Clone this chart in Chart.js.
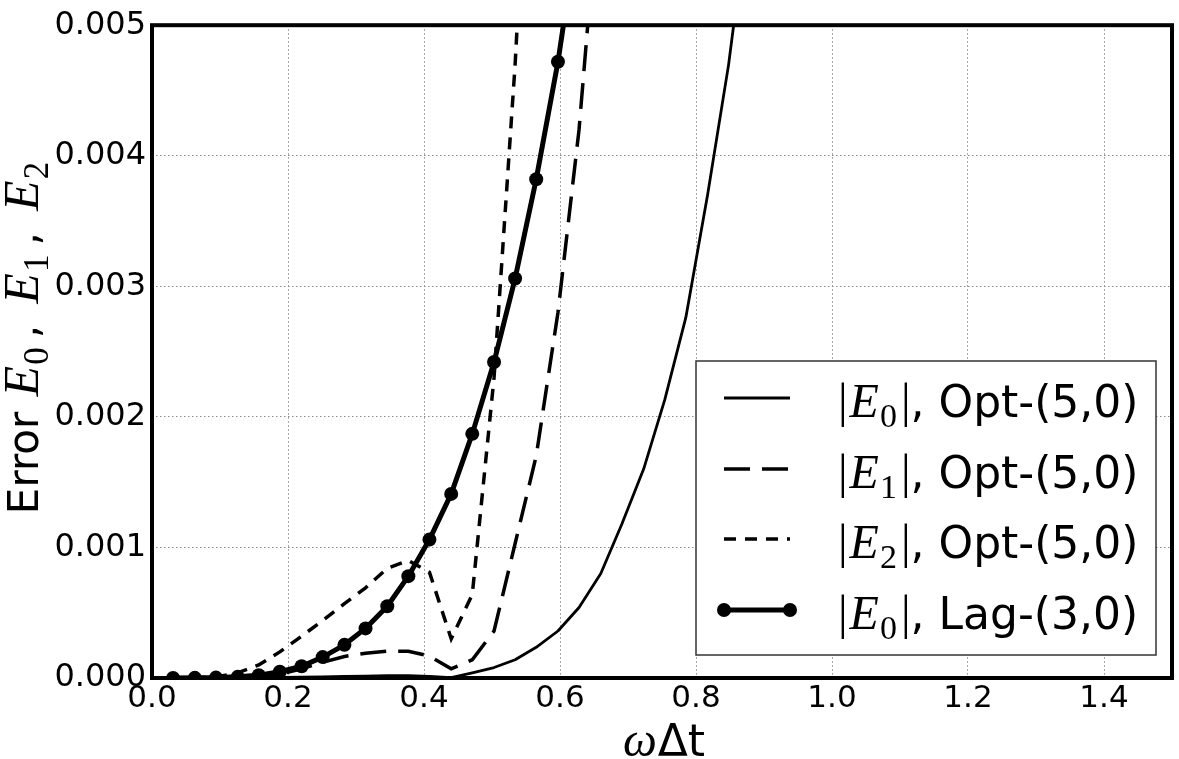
<!DOCTYPE html>
<html>
<head>
<meta charset="utf-8">
<script src="https://cdn.jsdelivr.net/npm/chart.js@4.4.1/dist/chart.umd.min.js"></script>
<style>
  html, body { margin: 0; padding: 0; background: #fff; }
  #wrap { width: 1179px; height: 759px; position: relative; }
</style>
</head>
<body>
<div id="wrap"><canvas id="c" width="1179" height="759"></canvas></div>
<script>
// ---- data ----
const omegaDt = [0.031,0.063,0.094,0.126,0.157,0.188,0.220,0.251,0.283,0.314,
                 0.346,0.377,0.408,0.440,0.471,0.503,0.534,0.565,0.597,0.628,
                 0.660,0.691,0.723,0.754,0.785,0.817,0.848,0.880];
const e0Opt = [0,0,0.0000005,0.000001,0.000002,0.000004,0.000006,0.000009,0.000012,0.000015,
               0.000018,0.000018,0.000013,0.000003,0.00004,0.00008,0.00014,0.000235,0.00036,0.00054,
               0.00080,0.00118,0.00160,0.00213,0.00276,0.00370,0.00470,0.00600];
const e1Opt = [0,0,0.000001,0.000004,0.000012,0.00003,0.00007,0.00012,0.000165,0.00019,
               0.000205,0.000205,0.000168,0.00007,0.00014,0.00036,0.00103,0.00170,0.00280,0.00420,
               0.00620];
const e2Opt = [0,0.000001,0.000008,0.00004,0.0001,0.0002,0.00032,0.00044,0.00057,0.00069,
               0.00084,0.00090,0.00081,0.00030,0.00064,0.00230,0.00470,0.00770];
const e0Lag = [0.0000004,0.000001,0.000003,0.000009,0.000022,0.000048,0.00009,0.00016,0.000254,0.00038,
               0.00055,0.00078,0.00106,0.00141,0.00187,0.00242,0.00306,0.00382,0.00472,0.0058];
const xTicks = [0.0,0.2,0.4,0.6,0.8,1.0,1.2,1.4];
const yTicks = [0.000,0.001,0.002,0.003,0.004,0.005];
const legendTexts = [
  {sub:'0', rest:', Opt-(5,0)'},
  {sub:'1', rest:', Opt-(5,0)'},
  {sub:'2', rest:', Opt-(5,0)'},
  {sub:'0', rest:', Lag-(3,0)'}
];

function pts(vals) { return vals.map((v,i) => ({x: omegaDt[i], y: v})); }

const SANS = '"DejaVu Sans", sans-serif';
const SERIF = '"Liberation Serif", "DejaVu Serif", serif';

function runsWidth(ctx, runs) {
  let w = 0;
  for (const r of runs) { ctx.font = r.font; w += ctx.measureText(r.t).width + (r.gap || 0); }
  return w;
}
function drawRuns(ctx, runs, x, y) {
  let cx = x;
  for (const r of runs) {
    ctx.font = r.font;
    ctx.fillText(r.t, cx, y + (r.dy || 0));
    cx += ctx.measureText(r.t).width + (r.gap || 0);
  }
}
function mathE(sub, size, after) {
  return [
    {t:'E', font:'italic ' + size + 'px ' + SERIF, gap: 1},
    {t:sub, font: Math.round(size*0.7) + 'px ' + SERIF, dy: Math.round(size*0.2), gap: after || 0}
  ];
}

const decorPlugin = {
  id: 'decor',
  afterDraw(chart) {
    const ctx = chart.ctx;
    const a = chart.chartArea;
    ctx.save();
    // frame
    ctx.strokeStyle = '#000';
    ctx.lineWidth = 4;
    ctx.strokeRect(a.left, a.top, a.right - a.left, a.bottom - a.top);

    ctx.fillStyle = '#000';
    ctx.textBaseline = 'alphabetic';
    ctx.textAlign = 'left';

    // x title
    const xr = [
      {t:'\u03c9', font:'italic 48px ' + SERIF, gap: 1},
      {t:'\u0394t', font:'44px ' + SANS}
    ];
    const xw = runsWidth(ctx, xr);
    drawRuns(ctx, xr, 664 - xw/2, 756);

    // y title (rotated)
    const yr = [{t:'Error ', font:'42px ' + SANS, gap: 2}]
      .concat(mathE('0', 50, 9), [{t:', ', font:'42px ' + SANS, gap: 8}])
      .concat(mathE('1', 50, 9), [{t:', ', font:'42px ' + SANS, gap: 8}])
      .concat(mathE('2', 50, 0));
    const yw = runsWidth(ctx, yr);
    ctx.save();
    ctx.translate(38, 338);
    ctx.rotate(-Math.PI/2);
    drawRuns(ctx, yr, -yw/2, 0);
    ctx.restore();

    // legend
    const lx = 696, ly = 361, lw = 460, lh = 294;
    ctx.fillStyle = '#fff';
    ctx.fillRect(lx, ly, lw, lh);
    ctx.strokeStyle = '#333';
    ctx.lineWidth = 1.5;
    ctx.strokeRect(lx, ly, lw, lh);
    const rowsY = [398, 469, 539, 610];
    const ds = chart.data.datasets;
    for (let i = 0; i < 4; i++) {
      const d = ds[i];
      const y = rowsY[i];
      ctx.beginPath();
      ctx.strokeStyle = '#000';
      ctx.lineWidth = d.borderWidth;
      ctx.setLineDash(d.borderDash || []);
      ctx.lineCap = 'butt';
      ctx.moveTo(724, y);
      ctx.lineTo(790, y);
      ctx.stroke();
      ctx.setLineDash([]);
      if (d.pointRadius > 0) {
        ctx.fillStyle = '#000';
        for (const px of [724, 790]) {
          ctx.beginPath();
          ctx.arc(px, y, d.pointRadius, 0, Math.PI*2);
          ctx.fill();
        }
      }
      ctx.fillStyle = '#000';
      const runs = [{t:'|', font:'48px ' + SERIF, gap: 2}]
        .concat(mathE(legendTexts[i].sub, 48, 4))
        .concat([{t:'|', font:'48px ' + SERIF, gap: 0}, {t:legendTexts[i].rest, font:'44px ' + SANS}]);
      drawRuns(ctx, runs, 838, y + 19);
    }
    ctx.restore();
  }
};

const gridStyle = {
  color: '#8a8a8a',
  lineWidth: 1,
  drawTicks: false
};

new Chart(document.getElementById('c'), {
  type: 'line',
  data: {
    datasets: [
      { label: '|E0|, Opt-(5,0)', data: pts(e0Opt), borderColor: '#000', borderWidth: 2.8,
        pointRadius: 0, tension: 0, fill: false, borderJoinStyle: 'round' },
      { label: '|E1|, Opt-(5,0)', data: pts(e1Opt), borderColor: '#000', borderWidth: 3.5,
        borderDash: [26, 12], pointRadius: 0, tension: 0, fill: false },
      { label: '|E2|, Opt-(5,0)', data: pts(e2Opt), borderColor: '#000', borderWidth: 3.5,
        borderDash: [12, 9], pointRadius: 0, tension: 0, fill: false },
      { label: '|E0|, Lag-(3,0)', data: pts(e0Lag), borderColor: '#000', borderWidth: 5,
        pointRadius: 7, pointBackgroundColor: '#000', pointBorderColor: '#000', pointBorderWidth: 0,
        tension: 0, fill: false, borderJoinStyle: 'round' }
    ]
  },
  options: {
    responsive: false,
    animation: false,
    layout: { padding: { top: 15, right: 5, left: 0, bottom: 0 } },
    plugins: { legend: { display: false }, tooltip: { enabled: false } },
    scales: {
      x: {
        type: 'linear', min: 0, max: 1.5,
        afterFit(s) { s.height = 81; },
        afterBuildTicks(s) { s.ticks = xTicks.map(v => ({value: v})); },
        grid: gridStyle,
        border: { display: false, dash: [1.5, 2.5] },
        ticks: { color: '#000', padding: 2, font: { family: 'DejaVu Sans', size: 31 },
                 maxRotation: 0, autoSkip: false, callback: v => Number(v).toFixed(1) }
      },
      y: {
        type: 'linear', min: 0, max: 0.005,
        afterFit(s) { s.width = 152; },
        afterBuildTicks(s) { s.ticks = yTicks.map(v => ({value: v})); },
        grid: gridStyle,
        border: { display: false, dash: [1.5, 2.5] },
        ticks: { color: '#000', padding: 6, font: { family: 'DejaVu Sans', size: 32 },
                 autoSkip: false, callback: v => Number(v).toFixed(3) }
      }
    }
  },
  plugins: [decorPlugin]
});
</script>
</body>
</html>
